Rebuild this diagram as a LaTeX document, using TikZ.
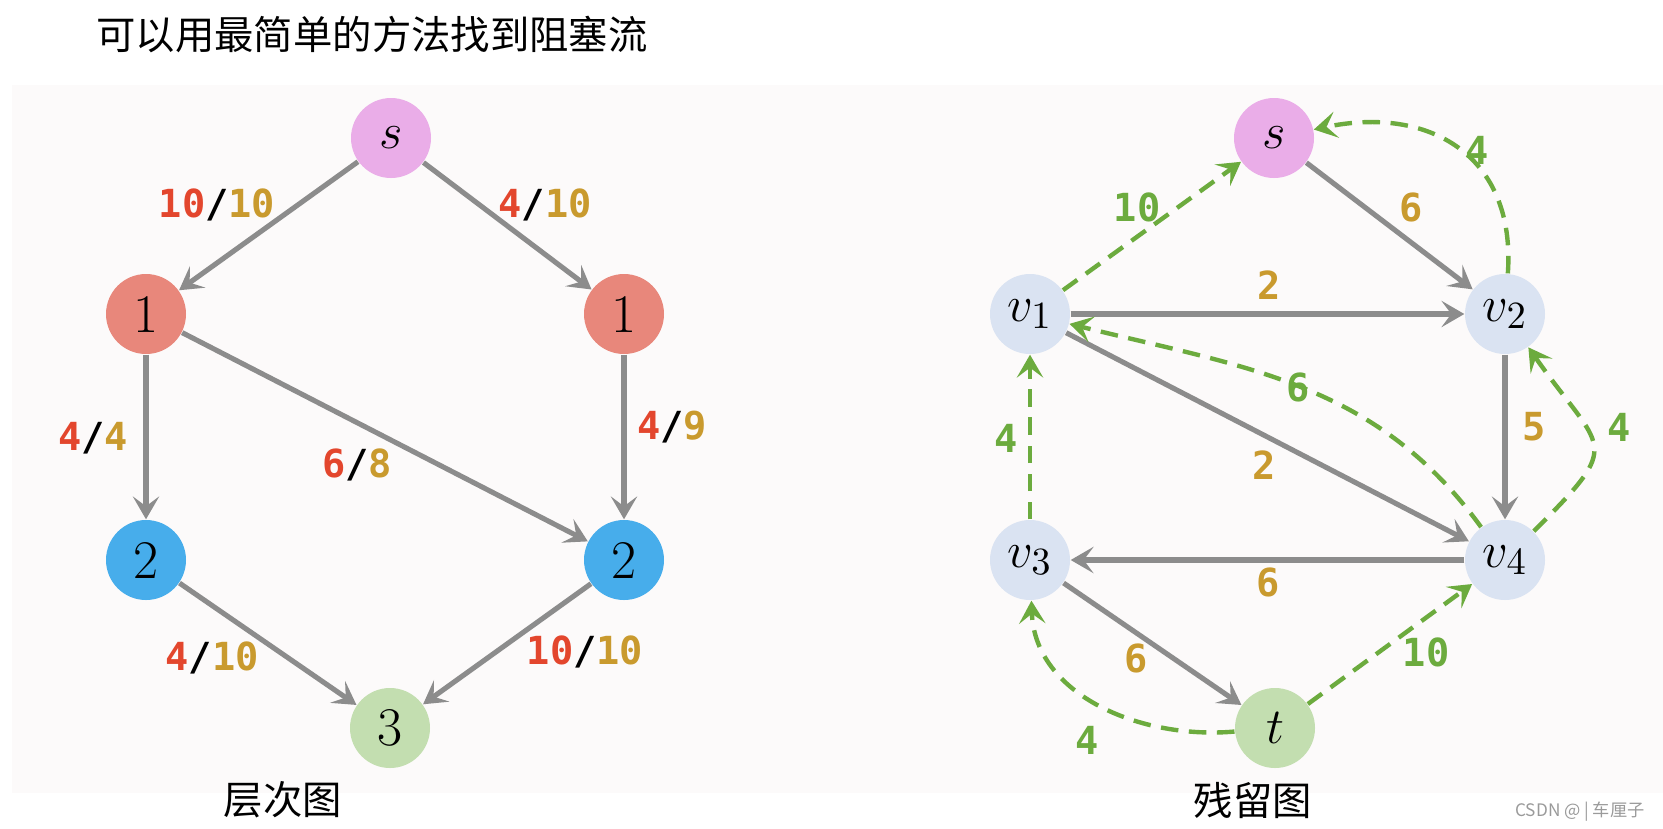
\documentclass[tikz,border=0pt]{standalone}
\usepackage{fontspec}
\usepackage{tikz}
\usetikzlibrary{arrows.meta,calc}
\newfontfamily\cjk{Noto Sans CJK SC}
\newfontfamily\lblfont{DejaVu Sans Mono}
\definecolor{cPanel}{HTML}{FCFAFA}
\definecolor{cPinkF}{HTML}{EAADE8}
\definecolor{cRedF}{HTML}{E8877B}
\definecolor{cBlueF}{HTML}{47ADEB}
\definecolor{cGreenF}{HTML}{C3DEB0}
\definecolor{cLavF}{HTML}{DAE3F2}
\definecolor{cEdge}{HTML}{8C8C8C}
\definecolor{cResG}{HTML}{6CAB3E}
\definecolor{cFlow}{HTML}{E3462D}
\definecolor{cCap}{HTML}{C99A2E}
\definecolor{cMark}{HTML}{9A9A9A}
\newcommand{\flowcap}[2]{\textcolor{cFlow}{#1}/\textcolor{cCap}{#2}}
\tikzset{
  vtx/.style   = {circle, minimum size=8mm, inner sep=0pt,
                  font=\fontsize{15.5}{18}\selectfont},
  pinkv/.style = {vtx, fill=cPinkF},
  redv/.style  = {vtx, fill=cRedF},
  bluev/.style = {vtx, fill=cBlueF},
  grnv/.style  = {vtx, fill=cGreenF},
  lavv/.style  = {vtx, fill=cLavF},
  edge/.style  = {cEdge, line width=1.45pt,
                  -{Stealth[length=6.5pt, width=7.5pt, inset=2.8pt]}},
  res/.style   = {cResG, line width=1.25pt, dash pattern=on 5pt off 3pt,
                  -{Stealth[length=6.5pt, width=7.5pt, inset=2.8pt]}},
  lbl/.style   = {inner sep=1pt, font={\lblfont\bfseries\fontsize{11}{13}\selectfont}},
  caplbl/.style= {lbl, text=cCap},
  reslbl/.style= {lbl, text=cResG},
  cjkcap/.style= {font={\cjk\fontsize{11.2}{13}\selectfont}},
}

\begin{document}
\begin{tikzpicture}
  \useasboundingbox (0,0) rectangle (16.63,-8.28);
  \fill[cPanel] (0.12,-0.85) rectangle (16.63,-7.93);
  \node[cjkcap] (title) at (3.72,-0.35) {可以用最简单的方法找到阻塞流};

  % level graph
  \node[pinkv] (s)  at (3.91,-1.38) {$s$};
  \node[redv]  (a1) at (1.46,-3.14) {1};
  \node[redv]  (b1) at (6.24,-3.14) {1};
  \node[bluev] (a2) at (1.46,-5.60) {2};
  \node[bluev] (b2) at (6.24,-5.60) {2};
  \node[grnv]  (n3) at (3.90,-7.28) {3};
  \draw[edge] (s) -- (a1);
  \draw[edge] (s) -- (b1);
  \draw[edge] (a1) -- (a2);
  \draw[edge] (a1) -- (b2);
  \draw[edge] (b1) -- (b2);
  \draw[edge] (a2) -- (n3);
  \draw[edge] (b2) -- (n3);
  \node[lbl] (la) at (2.17,-2.05) {\flowcap{10}{10}};
  \node[lbl] (lb) at (5.45,-2.05) {\flowcap{4}{10}};
  \node[lbl] (lc) at (0.93,-4.38) {\flowcap{4}{4}};
  \node[lbl] (ld) at (3.57,-4.65) {\flowcap{6}{8}};
  \node[lbl] (le) at (6.72,-4.27) {\flowcap{4}{9}};
  \node[lbl] (lf) at (2.12,-6.58) {\flowcap{4}{10}};
  \node[lbl] (lg) at (5.85,-6.52) {\flowcap{10}{10}};
  \node[cjkcap] (capA) at (2.83,-8.00) {层次图};

  % residual graph
  \node[pinkv] (rs) at (12.74,-1.38) {$s$};
  \node[lavv]  (v1) at (10.30,-3.14) {$v_1$};
  \node[lavv]  (v2) at (15.05,-3.14) {$v_2$};
  \node[lavv]  (v3) at (10.30,-5.60) {$v_3$};
  \node[lavv]  (v4) at (15.05,-5.60) {$v_4$};
  \node[grnv]  (rt) at (12.75,-7.28) {$t$};
  \draw[edge] (rs) -- (v2);
  \draw[edge] (v1) -- (v2);
  \draw[edge] (v1) -- (v4);
  \draw[edge] (v2) -- (v4);
  \draw[edge] (v4) -- (v3);
  \draw[edge] (v3) -- (rt);
  \draw[res] (v1) -- (rs);
  \draw[res] (v2) to[out=86, in=12, looseness=1.25] (rs);
  \draw[res] (v4) to[out=126, in=-14] (v1);
  \draw[res] (v4) to[out=45, in=-55, looseness=1.8] (v2);
  \draw[res] (v3) -- (v1);
  \draw[res] (rt) -- (v4);
  \draw[res] (rt) to[out=185, in=-88] (v3);
  \node[caplbl] (m1) at (14.11,-2.07) {6};
  \node[caplbl] (m2) at (12.69,-2.85) {2};
  \node[caplbl] (m3) at (15.34,-4.27) {5};
  \node[caplbl] (m4) at (12.64,-4.65) {2};
  \node[caplbl] (m5) at (12.68,-5.82) {6};
  \node[caplbl] (m6) at (11.36,-6.58) {6};
  \node[reslbl] (r1) at (11.37,-2.07) {10};
  \node[reslbl] (r2) at (14.77,-1.50) {4};
  \node[reslbl] (r3) at (12.98,-3.87) {6};
  \node[reslbl] (r4) at (16.19,-4.27) {4};
  \node[reslbl] (r5) at (10.06,-4.38) {4};
  \node[reslbl] (r6) at (14.26,-6.52) {10};
  \node[reslbl] (r7) at (10.87,-7.40) {4};
  \node[cjkcap] (capB) at (12.53,-8.00) {残留图};
  \node[text=cMark, font={\cjk\fontsize{4.9}{6}\selectfont}] (mark) at (15.80,-8.12) {CSDN @ | 车厘子};
\end{tikzpicture}
\end{document}
